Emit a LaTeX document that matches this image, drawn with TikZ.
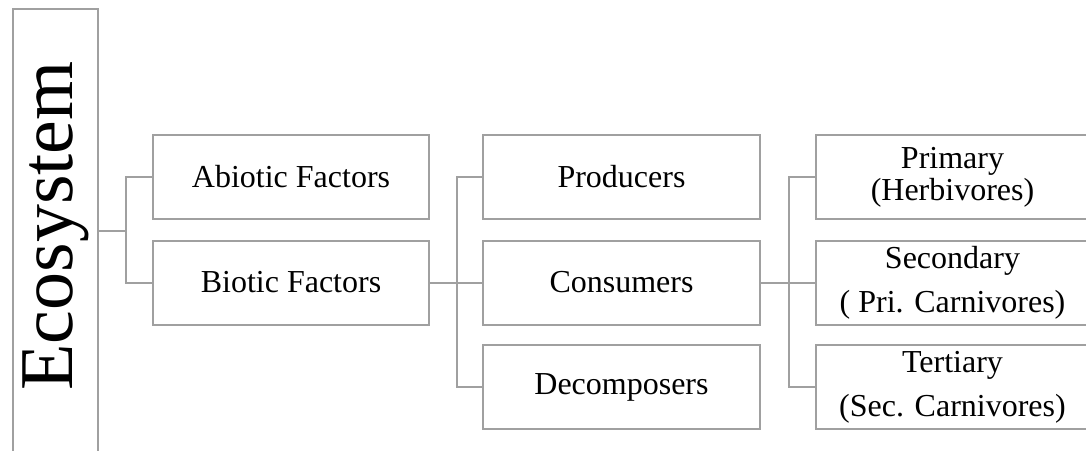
\documentclass[tikz,border=0pt]{standalone}
\usepackage{fontspec}
\setmainfont{Liberation Serif}
\usepackage{graphicx}
\definecolor{linegray}{RGB}{160,160,160}
\begin{document}
\begin{tikzpicture}[
    x=0.5pt, y=-0.5pt,
    box/.style={draw=linegray, line width=1pt, rectangle, inner sep=0pt, minimum height=42pt, anchor=west, align=center, font=\fontsize{16}{16}\selectfont},
    title/.style={draw=linegray, line width=1pt, rectangle, inner sep=0pt, minimum width=42.5pt, minimum height=222pt, font=\fontsize{38}{40}\selectfont},
    link/.style={draw=linegray, line width=1pt}
]
\useasboundingbox (0,0) rectangle (1086,450);
\clip (0,0) rectangle (1086,450);

% Root
\node[title] (eco) at (55.5,231) {\raisebox{2.5pt}[\height]{\rotatebox{90}{Ecosystem}}};

% First level
\node[box, minimum width=138pt] (abiotic) at (152,177) {Abiotic Factors};
\node[box, minimum width=138pt] (biotic) at (152,282.5) {Biotic Factors};

% Second level
\node[box, minimum width=138.5pt] (producers) at (482,177) {Producers};
\node[box, minimum width=138.5pt] (consumers) at (482,282.5) {Consumers};
\node[box, minimum width=138.5pt] (decomposers) at (482,387) {Decomposers};

% Third level
\node[box, minimum width=136.5pt] (primary) at (815,177) {Primary\\(Herbivores)};
\node[box, minimum width=136.5pt] (secondary) at (815,282.5) {Secondary\\[6pt]( Pri. Carnivores)};
\node[box, minimum width=136.5pt] (tertiary) at (815,387) {Tertiary\\[6pt](Sec. Carnivores)};

% Connectors
\draw[link] (eco.east) -- ++(27,0) |- (abiotic.west);
\draw[link] (eco.east) -- ++(27,0) |- (biotic.west);
\draw[link] (biotic.east) -- ++(27,0) |- (producers.west);
\draw[link] (biotic.east) -- ++(27,0) |- (consumers.west);
\draw[link] (biotic.east) -- ++(27,0) |- (decomposers.west);
\draw[link] (consumers.east) -- ++(28,0) |- (primary.west);
\draw[link] (consumers.east) -- ++(28,0) |- (secondary.west);
\draw[link] (consumers.east) -- ++(28,0) |- (tertiary.west);

\end{tikzpicture}
\end{document}
